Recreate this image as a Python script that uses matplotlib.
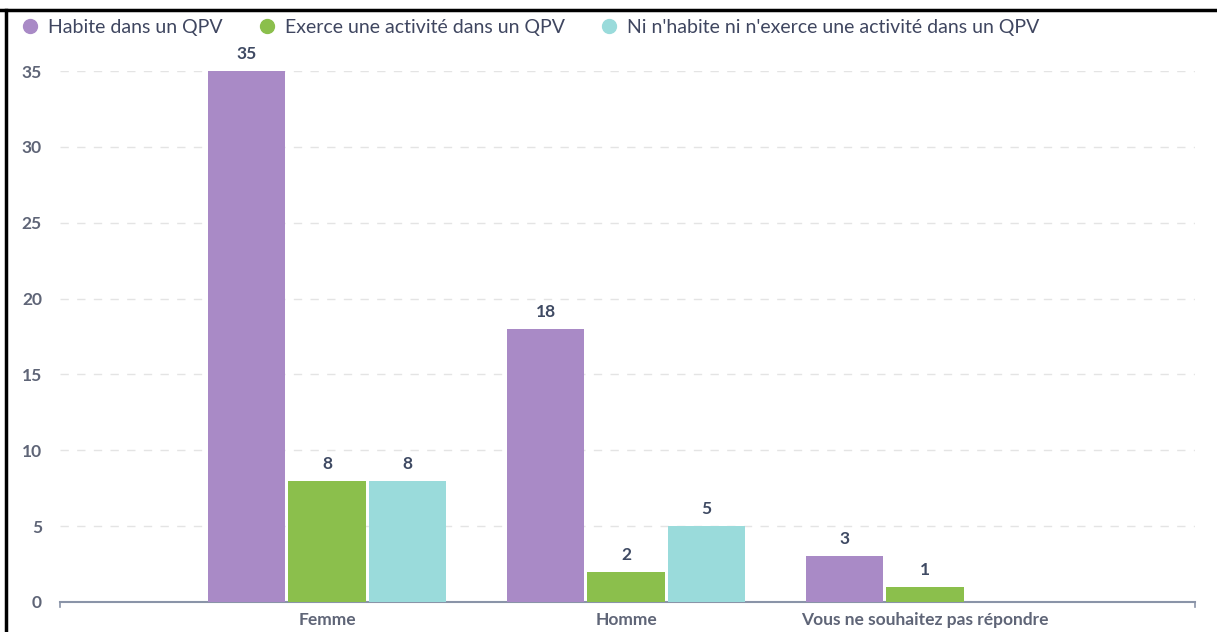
import matplotlib
matplotlib.use('Agg')
import matplotlib.pyplot as plt
from matplotlib.lines import Line2D
import numpy as np

# donnees
categories = ['Femme', 'Homme', 'Vous ne souhaitez pas répondre']
series_noms = ['Habite dans un QPV',
               'Exerce une activité dans un QPV',
               "Ni n'habite ni n'exerce une activité dans un QPV"]
habite = [35, 18, 3]
exerce = [8, 2, 1]
ni_ni = [8, 5, 0]
couleurs = ['#A98AC6', '#8BBF4C', '#9ADBDB']

plt.rcParams['font.family'] = ['Lato', 'DejaVu Sans']

fig = plt.figure(figsize=(12.17, 6.32), dpi=100)
ax = fig.add_axes([60 / 1217, 30 / 632, 1135 / 1217, 531 / 632])

x = np.arange(len(categories))
largeur = 0.258
decalage = 0.268
valeurs = [habite, exerce, ni_ni]

for i, (serie, couleur) in enumerate(zip(valeurs, couleurs)):
    pos = x + (i - 1) * decalage
    for xi, v in zip(pos, serie):
        if v == 0:
            continue
        ax.bar(xi, v, width=largeur, color=couleur, zorder=3)
        ax.text(xi, v + 0.6, str(v), ha='center', va='bottom',
                fontsize=12.5, fontweight='bold', color='#3F4A63', zorder=4)

ax.set_xlim(-0.893, 2.903)
ax.set_ylim(0, 35)
ax.set_yticks(range(0, 36, 5))
ax.set_xticks(x)
ax.set_xticklabels(categories)

for y in range(5, 36, 5):
    ax.axhline(y, color='#E4E4E4', lw=1, ls=(0, (6, 6)), zorder=1)

for s in ['top', 'right', 'left']:
    ax.spines[s].set_visible(False)
ax.spines['bottom'].set_color('#8A94A8')
ax.spines['bottom'].set_linewidth(1.5)
ax.plot([-0.893, -0.893], [0, -0.35], color='#8A94A8', lw=1.2, clip_on=False)
ax.plot([2.903, 2.903], [0, -0.35], color='#8A94A8', lw=1.2, clip_on=False)

ax.tick_params(axis='y', length=0, pad=13, labelsize=12.5, labelcolor='#5F6577')
ax.tick_params(axis='x', length=0, pad=7, labelsize=12.5, labelcolor='#5F6577')
for lab in ax.get_xticklabels() + ax.get_yticklabels():
    lab.set_fontweight('bold')

poignees = [Line2D([], [], marker='o', ls='', markersize=10,
                   markerfacecolor=c, markeredgecolor=c) for c in couleurs]
leg = fig.legend(poignees, series_noms, loc='center left',
                 bbox_to_anchor=(0.012, 1 - 27 / 632), ncol=3, frameon=False,
                 fontsize=14, handlelength=0.8, handletextpad=0.5,
                 columnspacing=1.9, borderaxespad=0)
for t in leg.get_texts():
    t.set_color('#3F4660')

# cadre de la capture d'ecran
fig.add_artist(Line2D([0, 1], [1 - 10 / 632, 1 - 10 / 632],
                      transform=fig.transFigure, color='black', lw=2.5))
fig.add_artist(Line2D([6 / 1217, 6 / 1217], [0, 1 - 10 / 632],
                      transform=fig.transFigure, color='black', lw=2.5))

fig.savefig('out.png', dpi=100)
